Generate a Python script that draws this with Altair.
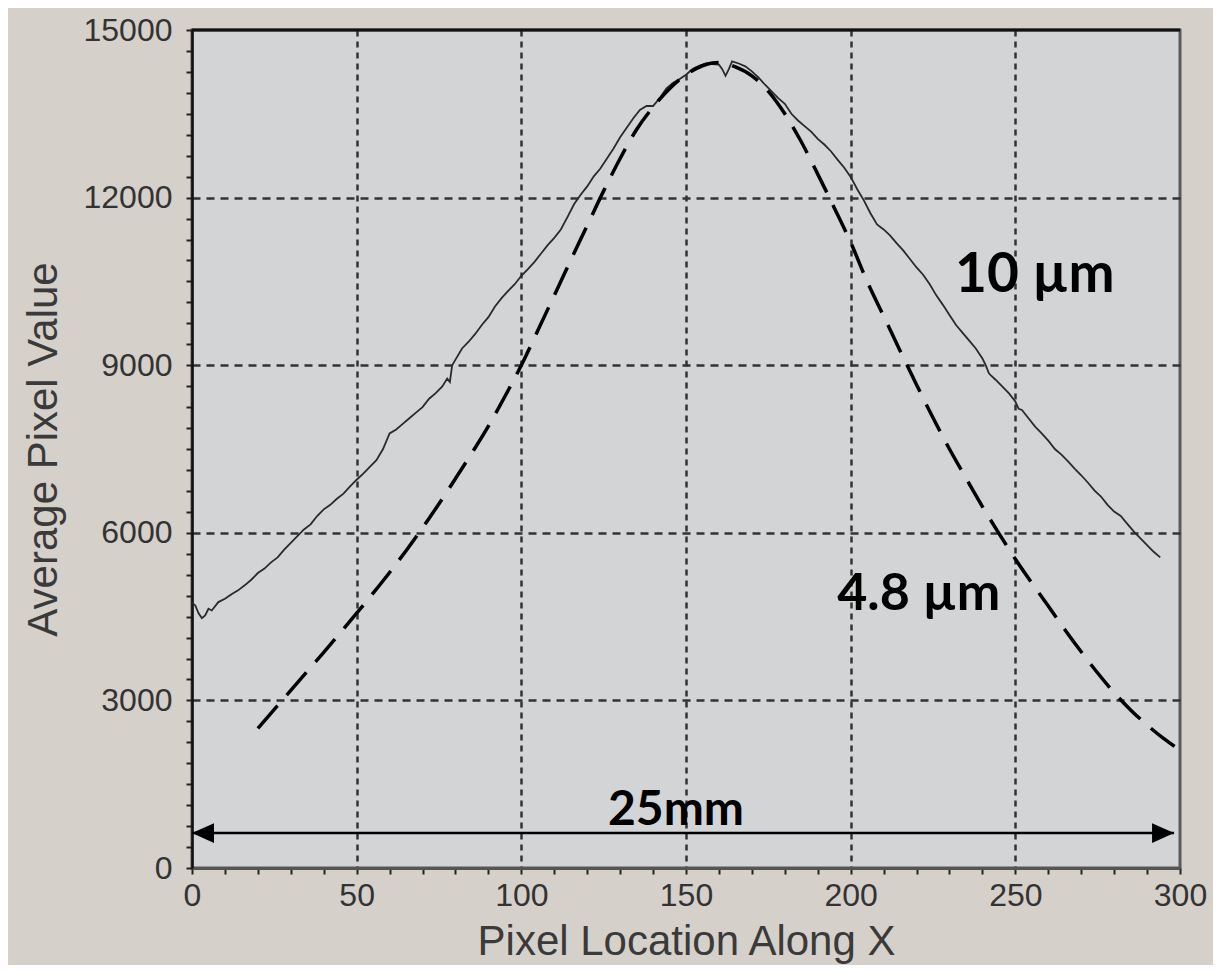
import altair as alt
import pandas as pd

# ---------------- data ----------------
solid_x = [0, 1, 2, 3, 4, 5, 6, 8, 10, 12, 14, 16, 18, 20, 22, 24, 26, 28, 30,
           32, 34, 36, 38, 40, 42, 44, 46, 48, 50, 52, 54, 56, 58, 60, 62, 64,
           66, 68, 70, 72, 74, 76, 77.5, 78.3, 79, 80, 82, 84, 86, 88, 90, 92,
           94, 96, 98, 100, 102, 104, 106, 108, 110, 112, 114, 116, 118, 120,
           122, 124, 126, 128, 130, 132, 134, 136, 138, 140, 142, 144, 146,
           148, 150, 152, 154, 156, 158, 160, 161, 162, 163, 164, 166, 168,
           170, 172, 174, 176, 178, 180, 182, 184, 186, 188, 190, 192, 194,
           196, 198, 200, 202, 204, 206, 208, 210, 212, 214, 216, 218, 220,
           222, 224, 226, 228, 230, 232, 234, 236, 238, 240, 241, 242, 244,
           246, 248, 250, 251, 252, 254, 256, 258, 260, 262, 264, 266, 268,
           270, 272, 274, 276, 278, 280, 282, 284, 286, 288, 290, 292, 294]
solid_y = [4750, 4700, 4560, 4470, 4520, 4640, 4610, 4760, 4820, 4900, 4970,
           5060, 5160, 5280, 5360, 5470, 5560, 5700, 5820, 5940, 6060, 6150,
           6300, 6420, 6500, 6610, 6700, 6830, 6950, 7060, 7180, 7300, 7500,
           7780, 7850, 7950, 8050, 8150, 8250, 8400, 8500, 8620, 8760, 8700,
           9000, 9100, 9300, 9420, 9560, 9720, 9860, 10050, 10200, 10330,
           10450, 10600, 10720, 10850, 11000, 11150, 11280, 11430, 11650,
           11880, 12050, 12200, 12380, 12520, 12700, 12880, 13080, 13250,
           13420, 13570, 13640, 13640, 13780, 13950, 14050, 14120, 14200,
           14300, 14360, 14400, 14390, 14380, 14300, 14180, 14300, 14440,
           14400, 14350, 14260, 14150, 14020, 13900, 13780, 13680, 13500,
           13380, 13280, 13180, 13050, 12950, 12830, 12680, 12540, 12370,
           12150, 11950, 11720, 11520, 11430, 11320, 11180, 11050, 10900,
           10750, 10620, 10450, 10250, 10080, 9900, 9720, 9580, 9440, 9300,
           9120, 9000, 8850, 8740, 8620, 8500, 8350, 8220, 8200, 8050, 7900,
           7780, 7650, 7500, 7400, 7280, 7150, 7030, 6900, 6760, 6650, 6500,
           6380, 6300, 6160, 6020, 5900, 5780, 5660, 5560]

dashed_x = [20, 25, 30, 35, 40, 45, 50, 55, 60, 65, 70, 75, 80, 85, 90, 95,
            100, 105, 110, 115, 120, 125, 130, 135, 140, 145, 150, 155, 158,
            160, 165, 170, 175, 180, 185, 190, 195, 200, 205, 210, 215, 220,
            225, 230, 235, 240, 245, 250, 255, 260, 265, 270, 275, 280, 285,
            290, 295, 298.5]
dashed_y = [2500, 2840, 3180, 3520, 3860, 4210, 4560, 4920, 5290, 5680, 6090,
            6520, 6970, 7430, 7910, 8440, 9000, 9620, 10250, 10880, 11500,
            12120, 12700, 13220, 13620, 13950, 14200, 14360, 14410, 14420,
            14340, 14180, 13900, 13500, 13000, 12420, 11820, 11200, 10500,
            9880, 9260, 8650, 8060, 7500, 6980, 6470, 5990, 5530, 5100, 4690,
            4270, 3870, 3490, 3140, 2830, 2560, 2320, 2170]

arrow_x = [0, 298.2]
arrow_y = [626, 626]

note_text = ["10 µm", "4.8 µm", "25mm"]
note_x = [231.7, 195.9, 126.3]
note_y = [10310, 4618, 770]
note_size = [55, 52, 48]

x_ticks = list(range(0, 301, 10))
y_ticks = [i * 375 for i in range(41)]

# ---------------- chart ----------------
solid_df = pd.DataFrame({"x": solid_x, "y": solid_y})
dashed_df = pd.DataFrame({"x": dashed_x, "y": dashed_y})
arrow_df = pd.DataFrame({"x": [arrow_x[0]], "x2": [arrow_x[1]], "y": [arrow_y[0]]})
head_l_df = pd.DataFrame({"x": [arrow_x[0]], "y": [arrow_y[0]]})
head_r_df = pd.DataFrame({"x": [arrow_x[1]], "y": [arrow_y[1]]})
note_df = pd.DataFrame({"t": note_text, "x": note_x, "y": note_y, "s": note_size})
top_df = pd.DataFrame({"y": [15000]})

xscale = alt.Scale(domain=[0, 300], nice=False, zero=False)
yscale = alt.Scale(domain=[0, 15000], nice=False, zero=False)

xaxis = alt.Axis(
    title="Pixel Location Along X",
    values=x_ticks,
    format="d",
    labelExpr="datum.value % 50 === 0 ? datum.label : ''",
    gridOpacity={"expr": "datum.value % 50 === 0 && datum.value > 0 && datum.value < 300 ? 1 : 0"},
    gridDash=[6, 5],
    labelFlush=False,
    labelOverlap=False,
    labelPadding=6,
    titlePadding=10,
    domainColor="#555555",
    domainWidth=3,
)
yaxis = alt.Axis(
    title="Average Pixel Value",
    values=y_ticks,
    format="d",
    labelExpr="datum.value % 3000 === 0 ? datum.label : ''",
    gridOpacity={"expr": "datum.value % 3000 === 0 && datum.value > 0 && datum.value < 15000 ? 1 : 0"},
    gridDash=[8, 6],
    labelFlush=False,
    labelOverlap=False,
    labelPadding=14,
    titlePadding=18,
    domainColor="#111111",
    domainWidth=2.5,
)

X = alt.X("x:Q", scale=xscale, axis=xaxis)
Y = alt.Y("y:Q", scale=yscale, axis=yaxis)

solid = alt.Chart(solid_df).mark_line(color="#2a2a2a", strokeWidth=1.8).encode(x=X, y=Y)
dashed = alt.Chart(dashed_df).mark_line(
    color="#000000", strokeWidth=3.5, strokeDash=[30, 14], interpolate="monotone"
).encode(x=X, y=Y)

top_border = alt.Chart(top_df).mark_rule(color="#111111", strokeWidth=3).encode(y=Y)

arrow = alt.Chart(arrow_df).mark_rule(color="#000000", strokeWidth=2.5).encode(
    x=X, x2="x2:Q", y=Y
)
head_l = alt.Chart(head_l_df).mark_point(
    shape="M0,0 L2,-0.9 L2,0.9 Z", filled=True, color="#000000", opacity=1, size=484
).encode(x=X, y=Y)
head_r = alt.Chart(head_r_df).mark_point(
    shape="M0,0 L-2,-0.9 L-2,0.9 Z", filled=True, color="#000000", opacity=1, size=484
).encode(x=X, y=Y)

notes = alt.Chart(note_df).mark_text(
    font="Lato", fontWeight="bold", align="left", baseline="alphabetic", color="#000000"
).encode(
    x=X,
    y=Y,
    text="t:N",
    size=alt.Size("s:Q", scale=None, legend=None),
)

chart = alt.layer(solid, dashed, top_border, arrow, head_l, head_r, notes).properties(
    width=988,
    height=838,
    autosize=alt.AutoSizeParams(type="none"),
    padding={"left": 184, "top": 22, "right": 33, "bottom": 97},
    background="#d5d0ca",
).configure_view(
    fill="#d3d4d5", stroke="#5a5a5a", strokeWidth=3
).configure_axis(
    labelFont="Liberation Sans",
    labelFontSize=32,
    labelColor="#333333",
    titleFont="Liberation Sans",
    titleFontSize=42,
    titleFontWeight="normal",
    titleColor="#3a3a3a",
    tickColor="#222222",
    tickWidth=2,
    tickSize=6,
    gridColor="#333333",
    gridWidth=2.5,
)

chart.save("out.html", embed_options={"renderer": "svg", "actions": False})
